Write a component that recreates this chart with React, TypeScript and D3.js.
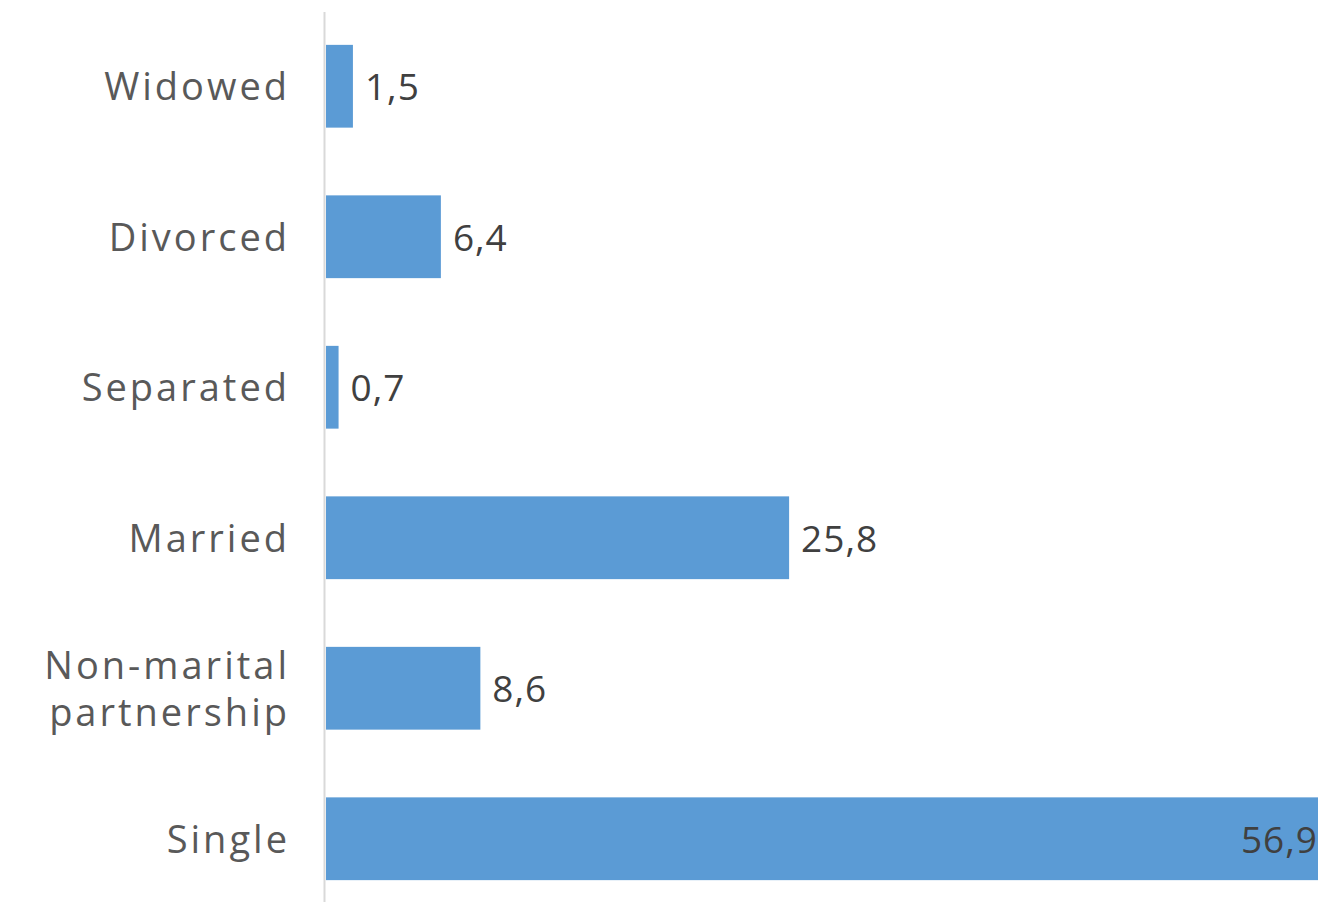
import React from "react";
import * as d3 from "d3";

const categories = ["Widowed", "Divorced", "Separated", "Married", "Non-marital partnership", "Single"];
const values = [1.5, 6.4, 0.7, 25.8, 8.6, 56.9];
const labelLines: string[][] = [["Widowed"], ["Divorced"], ["Separated"], ["Married"], ["Non-marital", "partnership"], ["Single"]];

const W = 1318;
const H = 902;
const FONT = "'Open Sans', sans-serif";

export default function App() {
  const x = d3.scaleLinear().domain([0, 60]).range([326, 326 + 60 * 17.95]);
  const y = d3.scaleBand<string>().domain(categories).range([11, 914]).paddingInner(0.45).paddingOuter(0.225);
  const fmt = (v: number) => d3.format(".1f")(v).replace(".", ",");
  return (
    <svg width={W} height={H} style={{ position: "absolute", left: 0, top: 0, background: "#fff" }}>
      <line x1={324.5} x2={324.5} y1={12} y2={H} stroke="#d9d9d9" strokeWidth={2} />
      {categories.map((c, i) => {
        const y0 = y(c)!;
        const bw = y.bandwidth();
        const cy = y0 + bw / 2;
        const xe = x(values[i]);
        const inside = xe > W - 40;
        const lines = labelLines[i];
        const lh = 47;
        return (
          <g key={c}>
            <rect x={x(0)} y={y0} width={xe - x(0)} height={bw} fill="#5b9bd5" />
            <text
              textAnchor="end"
              fontFamily={FONT}
              fontSize={38}
              letterSpacing={3}
              fill="#595959"
            >
              {lines.map((l, j) => (
                <tspan key={j} x={290} y={cy + 14 + (j - (lines.length - 1) / 2) * lh}>
                  {l}
                </tspan>
              ))}
            </text>
            <text
              x={inside ? W : xe + 12}
              y={cy + 14}
              textAnchor={inside ? "end" : "start"}
              fontFamily={FONT}
              fontSize={37}
              letterSpacing={1}
              fill="#404040"
            >
              {fmt(values[i])}
            </text>
          </g>
        );
      })}
    </svg>
  );
}
